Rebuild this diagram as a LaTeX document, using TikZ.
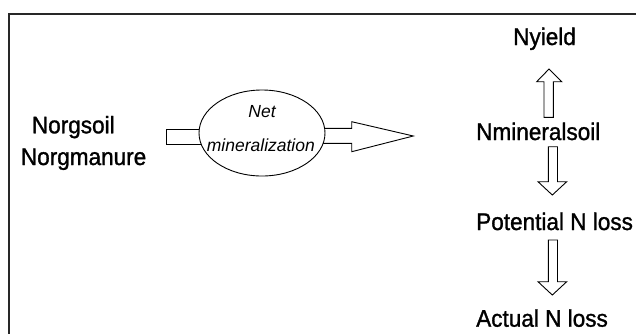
\documentclass[tikz,border=0pt]{standalone}
\usepackage{fontspec}
\setmainfont{Liberation Sans}
\newfontfamily\diagfont{Liberation Sans}[FakeStretch=0.94, FakeBold=1.2]
\usepackage{tikz}
\usetikzlibrary{calc,positioning,shapes.geometric}
\usepackage{xcolor}
\definecolor{framegray}{RGB}{40,40,40}

\tikzset{
  bigtext/.style={inner sep=0pt, anchor=base west, font=\diagfont\fontsize{24}{28}\selectfont},
  smalltext/.style={inner sep=0pt, anchor=base west, font=\fontsize{17.5}{20}\selectfont\itshape},
  blockarrow/.style={draw=black, line width=0.9pt, fill=white, line join=miter}
}

\begin{document}
\begin{tikzpicture}[x=1pt, y=-1pt]
  \path[use as bounding box, clip] (0,0) rectangle (636,333);
  % outer frame (runs off the page on the right and bottom)
  \draw[framegray, line width=1.5pt] (9,400) -- (9,14) -- (700,14);
  % left side
  \node[bigtext] (norgsoil) at (31.7,133.3) {Norgsoil};
  \node[bigtext] (norgmanure) at (20.7,165) {Norgmanure};
  % stub into the ellipse
  \draw[blockarrow] (166.7,129.3) rectangle (225,144.3);
  % arrow out of the ellipse
  \draw[blockarrow] (300,128.3) -- (351.7,128.3) -- (351.7,121.7) -- (413.3,136)
    -- (351.7,151.7) -- (351.7,143.3) -- (300,143.3) -- cycle;
  \node[ellipse, draw, line width=0.9pt, fill=white, minimum width=126pt,
        minimum height=86pt, inner sep=0pt] (netmin) at (262,133) {};
  \node[smalltext, anchor=base] (net) at (262,117.3) {Net};
  \node[smalltext] (mineral) at (206.7,151) {mineralization};
  % right side
  \node[bigtext] (nyield) at (513,45) {Nyield};
  \node[bigtext] (nmineral) at (476,140) {Nmineralsoil};
  \node[bigtext] (potloss) at (476,230) {Potential N loss};
  \node[bigtext] (actloss) at (476,326.7) {Actual N loss};
  % up arrow
  \draw[blockarrow] (544,117.3) -- (544,81.7) -- (536.7,81.7) -- (549,69)
    -- (561.7,81.7) -- (553.3,81.7) -- (553.3,117.3) -- cycle;
  % down arrows
  \foreach \ytop/\yhead/\ytip in {146.7/181.7/195, 240/281.7/295} {
    \draw[blockarrow] (548.3,\ytop) -- (548.3,\yhead) -- (538,\yhead) -- (552.3,\ytip)
      -- (566.7,\yhead) -- (557.5,\yhead) -- (557.5,\ytop) -- cycle;
  }
\end{tikzpicture}
\end{document}
